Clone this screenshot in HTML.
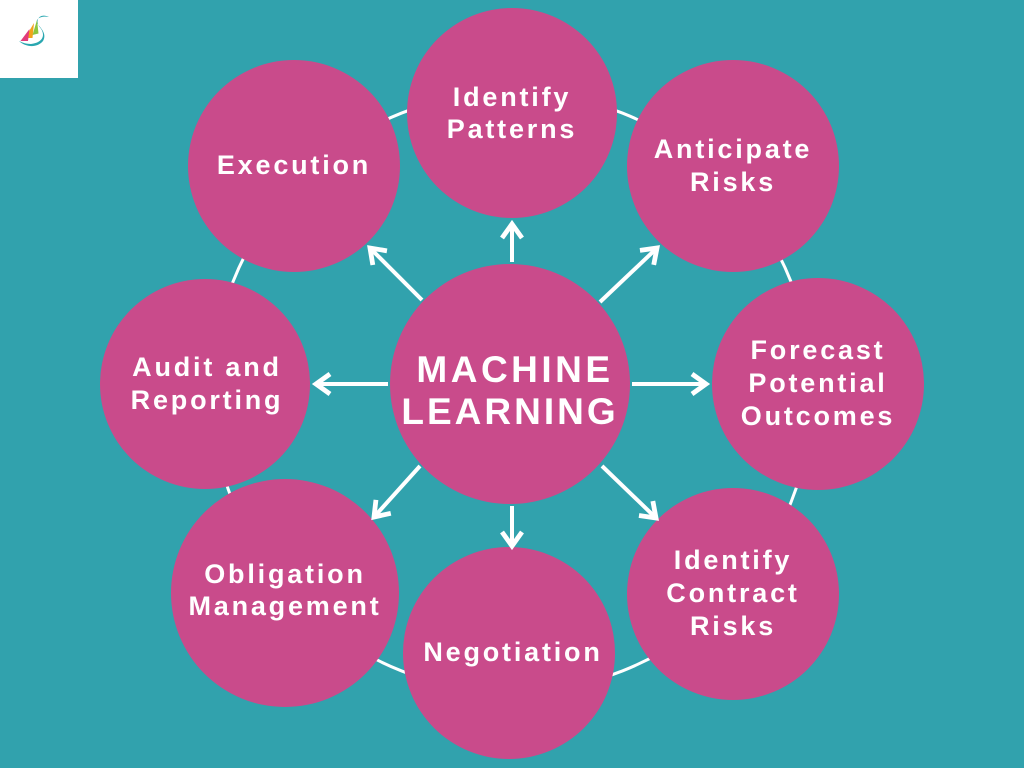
<!DOCTYPE html>
<html><head><meta charset="utf-8"><style>
html,body{margin:0;padding:0}
body{width:1024px;height:768px;background:#31A2AD;position:relative;overflow:hidden;font-family:"Liberation Sans",sans-serif}
svg{position:absolute;left:0;top:0}
text{font-family:"Liberation Sans",sans-serif;font-weight:bold;fill:#fff;letter-spacing:2.8px}
</style></head><body>
<svg width="1024" height="768" viewBox="0 0 1024 768">
<defs><marker id="a" markerWidth="6" markerHeight="6" refX="4" refY="3" orient="auto" markerUnits="strokeWidth"><path d="M0.5,0.5 L4,3 L0.5,5.5" fill="none" stroke="#fff" stroke-width="1.2"/></marker></defs>
<rect x="0" y="0" width="78" height="78" fill="#fff"/>
<g transform="translate(-20,-16) scale(1.5)">
<path d="M46,22 c-6,-3 -10,2 -6,7 c4,5 2,10 -6,11 c-3,0 -6,-1 -8,-2 c4,4 12,5 16,0 c3,-5 -2,-9 -4,-12 c-1,-3 3,-5 8,-4z" fill="#2aa7b0"/>
<path d="M36,26 l-6,10 l5,0z" fill="#f2a31c"/><path d="M33,30 l-6,8 l5,0z" fill="#e23c7a"/><path d="M38,24 l-3,10 l4,-1z" fill="#8cc63f"/>
</g>
<circle cx="512" cy="392" r="300" fill="none" stroke="#fff" stroke-width="3"/>
<g fill="#C94B8B">
<circle cx="510" cy="384" r="120"/>
<circle cx="512" cy="113" r="105"/>
<circle cx="733" cy="166" r="106"/>
<circle cx="818" cy="384" r="106"/>
<circle cx="733" cy="594" r="106"/>
<circle cx="509" cy="653" r="106"/>
<circle cx="285" cy="593" r="114"/>
<circle cx="205" cy="384" r="105"/>
<circle cx="294" cy="166" r="106"/>
</g>
<g stroke="#fff" stroke-width="4" fill="none" marker-end="url(#a)">
<line x1="512" y1="262" x2="512" y2="224"/>
<line x1="632" y1="384" x2="706" y2="384"/>
<line x1="388" y1="384" x2="316" y2="384"/>
<line x1="512" y1="506" x2="512" y2="546"/>
<line x1="600" y1="302" x2="657" y2="248"/>
<line x1="422" y1="300" x2="370" y2="248"/>
<line x1="420" y1="466" x2="374" y2="517"/>
<line x1="602" y1="466" x2="656" y2="518"/>
</g>
<g text-anchor="middle" font-size="27">
<text x="512" y="106">Identify</text><text x="512" y="138">Patterns</text>
<text x="733" y="158">Anticipate</text><text x="733" y="191">Risks</text>
<text x="818" y="359">Forecast</text><text x="818" y="392">Potential</text><text x="818" y="425">Outcomes</text>
<text x="733" y="569">Identify</text><text x="733" y="602">Contract</text><text x="733" y="635">Risks</text>
<text x="513" y="661">Negotiation</text>
<text x="285" y="583">Obligation</text><text x="285" y="615">Management</text>
<text x="207" y="376">Audit and</text><text x="207" y="409">Reporting</text>
<text x="294" y="174">Execution</text>
<text x="515" y="382" font-size="37" style="letter-spacing:3.5px">MACHINE</text><text x="510" y="424" font-size="37" style="letter-spacing:3px">LEARNING</text>
</g>
</svg>
</body></html>
